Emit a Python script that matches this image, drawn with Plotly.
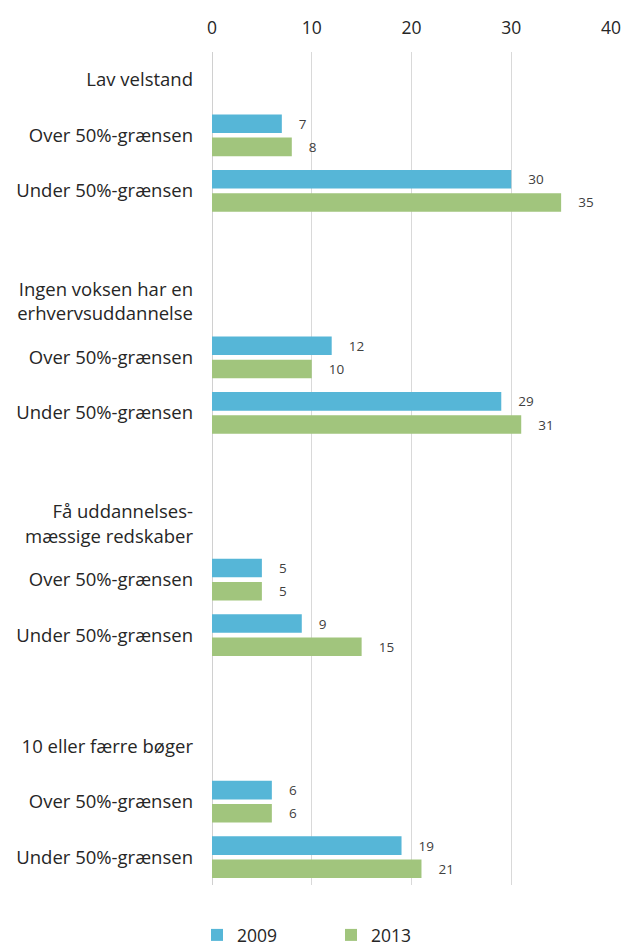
import plotly.graph_objects as go

group_titles = ["Lav velstand", "Ingen voksen har en<br>erhvervsuddannelse",
                "Få uddannelses-<br>mæssige redskaber", "10 eller færre bøger"]
sub_labels = ["Over 50%-grænsen", "Under 50%-grænsen"]
v2009 = [7, 30, 12, 29, 5, 9, 6, 19]
v2013 = [8, 35, 10, 31, 5, 15, 6, 21]
x_ticks = [0, 10, 20, 30, 40]

# slot layout: header, over, under, blank per group
tickvals, ticktext, bar_y = [], [], []
for g, title in enumerate(group_titles):
    base = g * 4
    tickvals += [base, base + 1, base + 2]
    ticktext += [title] + sub_labels
    bar_y += [base + 1, base + 2]

FONT = "Open Sans"
C2009 = "#56B6D7"
C2013 = "#A1C57D"
NB = "\u00a0" * 4
LBL = dict(size=13.5, color="#404040", family=FONT)

fig = go.Figure()
fig.add_trace(go.Bar(name="2009", y=bar_y, x=v2009, orientation="h",
                     marker=dict(color=C2009, line=dict(width=0)),
                     texttemplate=NB + "%{x}", textposition="outside",
                     cliponaxis=False, constraintext="none", textfont=LBL))
fig.add_trace(go.Bar(name="2013", y=bar_y, x=v2013, orientation="h",
                     marker=dict(color=C2013, line=dict(width=0)),
                     texttemplate=NB + "%{x}", textposition="outside",
                     cliponaxis=False, constraintext="none", textfont=LBL))

fig.update_layout(
    width=624, height=946,
    margin=dict(l=212, r=13, t=52, b=61, autoexpand=False),
    paper_bgcolor="white", plot_bgcolor="white",
    font=dict(family=FONT, size=18, color="#262626"),
    barmode="group", bargap=0.165, bargroupgap=0.2,
    showlegend=True,
    legend=dict(orientation="h", xref="container", yref="container",
                x=0.3157, y=0.0116, xanchor="left", yanchor="middle",
                entrywidth=89, font=dict(size=17.5, color="#262626"),
                traceorder="normal"),
    xaxis=dict(side="top", range=[0, 40], tickvals=x_ticks, automargin=False,
               showgrid=True, gridcolor="#D9D9D9", gridwidth=1,
               zeroline=True, zerolinecolor="#D0D0D0", zerolinewidth=1,
               showline=False, ticks="outside", ticklen=10,
               tickcolor="rgba(0,0,0,0)", tickfont=dict(size=17.5)),
    yaxis=dict(range=[14.5, -0.5], tickvals=tickvals, ticktext=ticktext,
               automargin=False,
               showgrid=False, zeroline=False, showline=False, ticks="",
               ticklabelstandoff=18, tickfont=dict(size=18.5)),
)

fig.write_html("out.html",
               config={"displayModeBar": False},
               post_script="document.body.style.margin='0';"
                           "document.body.style.overflow='hidden';")
